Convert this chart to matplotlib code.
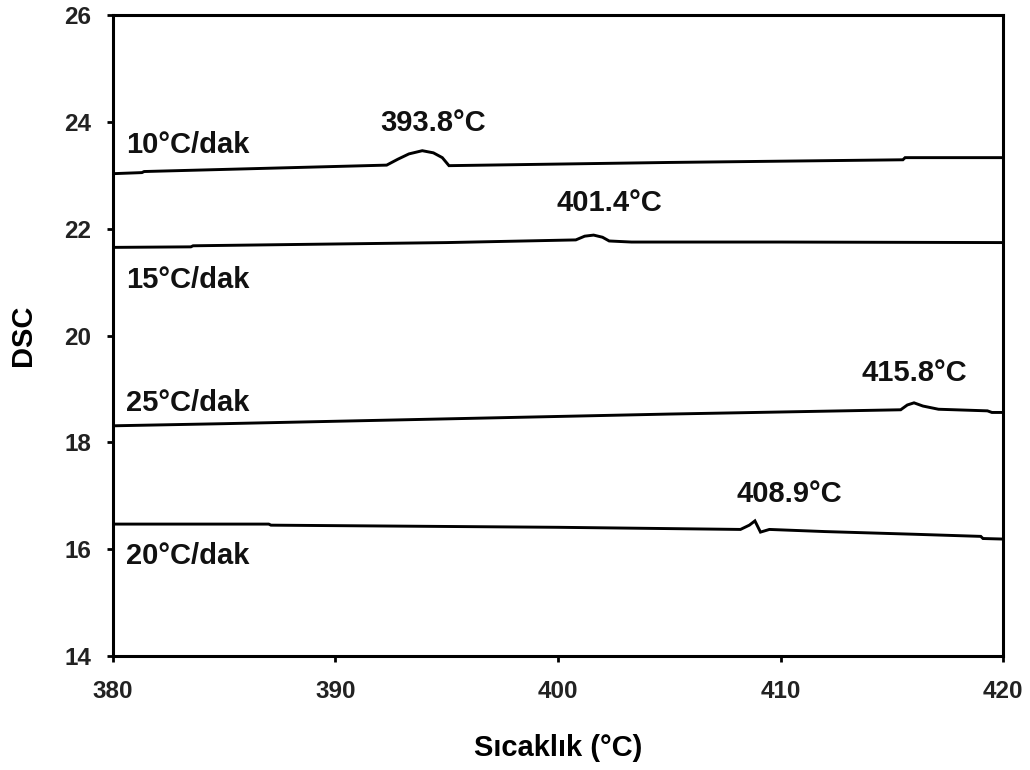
import matplotlib
matplotlib.use("Agg")
from matplotlib import pyplot as plt

plt.rcParams['font.family'] = ['Liberation Sans', 'DejaVu Sans']

# DSC curves, one per heating rate (temperature in C, signal)
x_10 = [380, 381.3, 381.4, 392.3, 392.8, 393.3, 393.9, 394.4, 394.8, 395.1, 405, 415.5, 415.6, 420]
y_10 = [23.03, 23.05, 23.07, 23.19, 23.30, 23.40, 23.46, 23.42, 23.33, 23.18, 23.24, 23.29, 23.33, 23.33]

x_15 = [380, 383.5, 383.6, 395, 400.8, 401.2, 401.6, 402.0, 402.3, 403.3, 410, 420]
y_15 = [21.65, 21.66, 21.68, 21.74, 21.79, 21.86, 21.88, 21.84, 21.77, 21.75, 21.75, 21.74]

x_25 = [380, 385, 395, 405, 415.4, 415.7, 416.0, 416.4, 417.1, 419.3, 419.5, 420]
y_25 = [18.31, 18.35, 18.44, 18.53, 18.61, 18.70, 18.74, 18.68, 18.62, 18.59, 18.56, 18.56]

x_20 = [380, 387, 387.1, 400, 408.2, 408.6, 408.85, 409.1, 409.5, 412, 416, 419, 419.1, 420]
y_20 = [16.47, 16.47, 16.45, 16.41, 16.37, 16.45, 16.53, 16.32, 16.37, 16.33, 16.28, 16.24, 16.20, 16.19]

rate_labels = ['10°C/dak', '15°C/dak', '25°C/dak', '20°C/dak']
rate_label_y = [23.57, 21.04, 18.74, 15.87]

peak_labels = ['393.8°C', '401.4°C', '415.8°C', '408.9°C']
peak_label_x = [394.4, 402.3, 416.0, 410.4]
peak_label_y = [23.98, 22.48, 19.30, 17.03]

fig = plt.figure(figsize=(10.3, 7.7), dpi=100)
ax = fig.add_axes([0.1097, 0.148, 0.8641, 0.8325])

for xs, ys in [(x_10, y_10), (x_15, y_15), (x_25, y_25), (x_20, y_20)]:
    ax.plot(xs, ys, color='black', linewidth=2.1, solid_joinstyle='miter')

for lab, yy in zip(rate_labels, rate_label_y):
    ax.text(380.6, yy, lab, fontsize=21, fontweight='bold', ha='left', va='center', color='#111111')

for lab, xx, yy in zip(peak_labels, peak_label_x, peak_label_y):
    ax.text(xx, yy, lab, fontsize=21, fontweight='bold', ha='center', va='center', color='#111111')

ax.set_xlim(380, 420)
ax.set_ylim(14, 26)
ax.set_xticks(range(380, 421, 10))
ax.set_yticks(range(14, 27, 2))

for s in ax.spines.values():
    s.set_linewidth(2.2)

ax.tick_params(direction='out', length=4.5, width=2, labelsize=17.5, colors='black')
ax.tick_params(axis='x', pad=13)
ax.tick_params(axis='y', pad=11)
for t in ax.get_xticklabels() + ax.get_yticklabels():
    t.set_fontweight('bold')
    t.set_color('#222222')

ax.set_xlabel('Sıcaklık (°C)', fontsize=21, fontweight='bold', labelpad=22)
ax.set_ylabel('DSC', fontsize=21, fontweight='bold', labelpad=20)

fig.savefig('out.png', dpi=100)
